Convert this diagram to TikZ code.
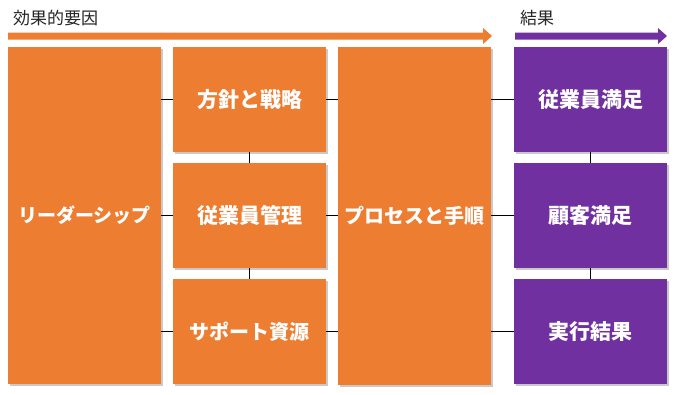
\documentclass[tikz,border=0pt]{standalone}
\usepackage{fontspec}
\newfontfamily\jp{Noto Sans CJK JP}
\usetikzlibrary{shadows}
\definecolor{cOrange}{HTML}{ED7D31}
\definecolor{cPurple}{HTML}{7030A0}
\tikzset{
  box/.style={draw=none, rectangle, inner sep=0pt, text=white,
    font=\jp\bfseries\fontsize{21}{24}\selectfont,
    drop shadow={shadow xshift=1.6pt, shadow yshift=-1.6pt, opacity=0.35, fill=black!60}},
  obox/.style={box, fill=cOrange},
  pbox/.style={box, fill=cPurple},
  kana/.style={font=\jp\bfseries\fontsize{20}{24}\selectfont},
  kanab/.style={font=\jp\bfseries\fontsize{19}{24}\selectfont},
  link/.style={draw=black, line width=1.5pt},
  head/.style={font=\jp\fontsize{17}{20}\selectfont, text=black!85, anchor=west, inner sep=0pt}
}
\begin{document}
\begin{tikzpicture}[x=1pt,y=-1pt]
\useasboundingbox (0,0) rectangle (677,394);
\fill[white] (0,0) rectangle (677,394);
% header labels and arrows
\node[head] (h1) at (13,18) {効果的要因};
\node[head] (h2) at (520,18) {結果};
\fill[cOrange] (8,32.5) -- (483,32.5) -- (483,28) -- (492,36) -- (483,44) -- (483,39.5) -- (8,39.5) -- cycle;
\fill[cPurple] (515,32.5) -- (658,32.5) -- (658,28) -- (667,36) -- (658,44) -- (658,39.5) -- (515,39.5) -- cycle;
% boxes
\node[obox, kanab, minimum width=153pt, minimum height=337pt] (lead) at (84.5,215.5) {リーダーシップ};
\node[obox, minimum width=153pt, minimum height=105pt] (pol) at (249.5,99.5) {方針と戦略};
\node[obox, minimum width=153pt, minimum height=105pt] (emp) at (249.5,215.5) {従業員管理};
\node[obox, kana, minimum width=153pt, minimum height=105pt] (sup) at (249.5,331.5) {サポート資源};
\node[obox, kana, minimum width=153pt, minimum height=338pt] (proc) at (414.5,216) {プロセスと手順};
\node[pbox, minimum width=153pt, minimum height=105pt] (sat) at (590.5,99.5) {従業員満足};
\node[pbox, minimum width=153pt, minimum height=105pt] (cus) at (590.5,215.5) {顧客満足};
\node[pbox, minimum width=153pt, minimum height=105pt] (res) at (590.5,331.5) {実行結果};
% connectors
\draw[link] (lead.east |- pol) -- (pol.west);
\draw[link] (lead.east |- emp) -- (emp.west);
\draw[link] (lead.east |- sup) -- (sup.west);
\draw[link] (pol.east) -- (proc.west |- pol);
\draw[link] (emp.east) -- (proc.west |- emp);
\draw[link] (sup.east) -- (proc.west |- sup);
\draw[link] (pol.south) -- (emp.north);
\draw[link] (emp.south) -- (sup.north);
\draw[link] (proc.east |- sat) -- (sat.west);
\draw[link] (proc.east |- cus) -- (cus.west);
\draw[link] (proc.east |- res) -- (res.west);
\draw[link] (sat.south) -- (cus.north);
\draw[link] (cus.south) -- (res.north);
\end{tikzpicture}
\end{document}
